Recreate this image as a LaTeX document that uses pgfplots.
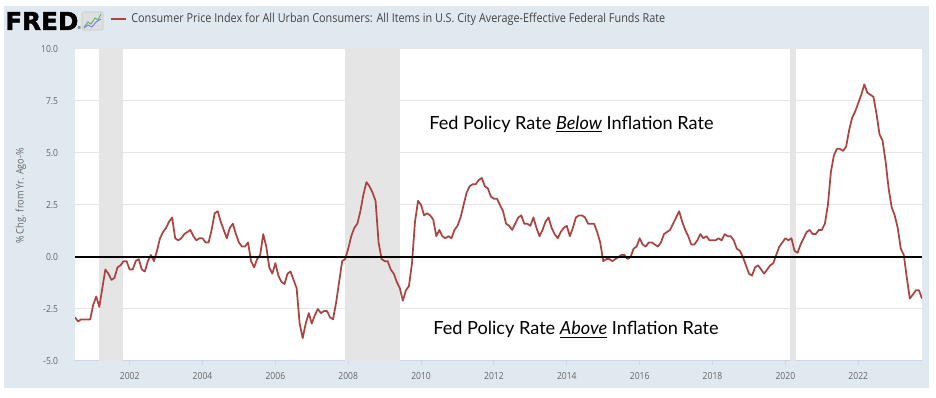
\documentclass[border=0pt]{standalone}
\usepackage{fontspec}
\usepackage{pgfplots}
\pgfplotsset{compat=1.18}
\usepackage{pgfplotstable}
\setmainfont{Open Sans}[FakeStretch=0.88]
\newfontfamily\annotfont{Lato}
\newfontfamily\logofont{DejaVu Sans}[BoldFeatures={FakeBold=1.5}]
\definecolor{panel}{HTML}{E1E9F0}
\definecolor{recess}{HTML}{E5E5E5}
\definecolor{gridc}{HTML}{E6E6E6}
\definecolor{axc}{HTML}{CCD6EB}
\definecolor{tickc}{HTML}{666666}
\definecolor{titlec}{HTML}{444444}
\definecolor{lred}{RGB}{170,68,66}
\pgfplotstableread{
y m v
2000 7 -2.9
2000 8 -3.1
2000 9 -3.0
2000 10 -3.0
2000 11 -3.0
2000 12 -3.0
2001 1 -2.3
2001 2 -1.9
2001 3 -2.4
2001 4 -1.5
2001 5 -0.6
2001 6 -0.8
2001 7 -1.1
2001 8 -1.0
2001 9 -0.5
2001 10 -0.4
2001 11 -0.2
2001 12 -0.2
2002 1 -0.6
2002 2 -0.6
2002 3 -0.2
2002 4 -0.1
2002 5 -0.6
2002 6 -0.7
2002 7 -0.2
2002 8 0.1
2002 9 -0.2
2002 10 0.3
2002 11 0.9
2002 12 1.2
2003 1 1.4
2003 2 1.7
2003 3 1.9
2003 4 0.9
2003 5 0.8
2003 6 0.9
2003 7 1.1
2003 8 1.2
2003 9 1.3
2003 10 1.0
2003 11 0.8
2003 12 0.9
2004 1 0.9
2004 2 0.7
2004 3 0.7
2004 4 1.3
2004 5 2.1
2004 6 2.2
2004 7 1.7
2004 8 1.3
2004 9 0.9
2004 10 1.4
2004 11 1.6
2004 12 1.1
2005 1 0.7
2005 2 0.5
2005 3 0.5
2005 4 0.7
2005 5 -0.2
2005 6 -0.5
2005 7 -0.1
2005 8 0.1
2005 9 1.1
2005 10 0.5
2005 11 -0.5
2005 12 -0.8
2006 1 -0.3
2006 2 -0.9
2006 3 -1.2
2006 4 -1.3
2006 5 -0.8
2006 6 -0.7
2006 7 -1.1
2006 8 -1.5
2006 9 -3.2
2006 10 -3.9
2006 11 -3.2
2006 12 -2.7
2007 1 -3.2
2007 2 -2.8
2007 3 -2.5
2007 4 -2.7
2007 5 -2.6
2007 6 -2.6
2007 7 -2.9
2007 8 -3.0
2007 9 -2.2
2007 10 -1.2
2007 11 -0.2
2007 12 -0.1
2008 1 0.4
2008 2 1.0
2008 3 1.4
2008 4 1.6
2008 5 2.2
2008 6 3.0
2008 7 3.6
2008 8 3.4
2008 9 3.1
2008 10 2.7
2008 11 0.7
2008 12 -0.1
2009 1 -0.2
2009 2 -0.2
2009 3 -0.6
2009 4 -0.8
2009 5 -1.2
2009 6 -1.5
2009 7 -2.1
2009 8 -1.6
2009 9 -1.4
2009 10 -0.3
2009 11 1.7
2009 12 2.7
2010 1 2.5
2010 2 2.0
2010 3 2.1
2010 4 2.0
2010 5 1.8
2010 6 1.0
2010 7 1.3
2010 8 1.0
2010 9 0.9
2010 10 1.0
2010 11 0.9
2010 12 1.3
2011 1 1.5
2011 2 1.9
2011 3 2.5
2011 4 3.1
2011 5 3.4
2011 6 3.5
2011 7 3.5
2011 8 3.7
2011 9 3.8
2011 10 3.4
2011 11 3.3
2011 12 2.9
2012 1 2.8
2012 2 2.8
2012 3 2.5
2012 4 2.2
2012 5 1.6
2012 6 1.5
2012 7 1.3
2012 8 1.6
2012 9 1.9
2012 10 2.0
2012 11 1.6
2012 12 1.6
2013 1 1.5
2013 2 1.9
2013 3 1.4
2013 4 1.0
2013 5 1.3
2013 6 1.7
2013 7 1.9
2013 8 1.4
2013 9 1.1
2013 10 0.9
2013 11 1.2
2013 12 1.4
2014 1 1.5
2014 2 1.0
2014 3 1.4
2014 4 1.9
2014 5 2.0
2014 6 2.0
2014 7 1.9
2014 8 1.6
2014 9 1.6
2014 10 1.6
2014 11 1.2
2014 12 0.7
2015 1 -0.2
2015 2 -0.1
2015 3 -0.1
2015 4 -0.2
2015 5 -0.1
2015 6 0.0
2015 7 0.1
2015 8 0.1
2015 9 -0.1
2015 10 0.0
2015 11 0.4
2015 12 0.5
2016 1 0.9
2016 2 0.6
2016 3 0.5
2016 4 0.7
2016 5 0.7
2016 6 0.6
2016 7 0.5
2016 8 0.7
2016 9 1.1
2016 10 1.2
2016 11 1.3
2016 12 1.6
2017 1 1.9
2017 2 2.2
2017 3 1.7
2017 4 1.3
2017 5 1.0
2017 6 0.6
2017 7 0.6
2017 8 0.8
2017 9 1.1
2017 10 0.9
2017 11 1.0
2017 12 0.8
2018 1 0.8
2018 2 0.8
2018 3 0.9
2018 4 0.8
2018 5 1.1
2018 6 1.0
2018 7 1.0
2018 8 0.8
2018 9 0.4
2018 10 0.3
2018 11 0.0
2018 12 -0.4
2019 1 -0.8
2019 2 -0.9
2019 3 -0.5
2019 4 -0.4
2019 5 -0.6
2019 6 -0.8
2019 7 -0.6
2019 8 -0.4
2019 9 -0.3
2019 10 0.1
2019 11 0.5
2019 12 0.7
2020 1 0.9
2020 2 0.8
2020 3 0.9
2020 4 0.3
2020 5 0.2
2020 6 0.6
2020 7 0.9
2020 8 1.2
2020 9 1.3
2020 10 1.1
2020 11 1.1
2020 12 1.3
2021 1 1.3
2021 2 1.6
2021 3 2.5
2021 4 4.1
2021 5 4.9
2021 6 5.2
2021 7 5.2
2021 8 5.1
2021 9 5.3
2021 10 6.1
2021 11 6.7
2021 12 7.0
2022 1 7.4
2022 2 7.8
2022 3 8.3
2022 4 7.9
2022 5 7.8
2022 6 7.7
2022 7 6.9
2022 8 5.9
2022 9 5.6
2022 10 4.6
2022 11 3.3
2022 12 2.4
2023 1 2.0
2023 2 1.4
2023 3 0.4
2023 4 0.1
2023 5 -1.0
2023 6 -2.0
2023 7 -1.8
2023 8 -1.6
2023 9 -1.6
2023 10 -2.0
}\cpidata
\begin{document}
\begin{tikzpicture}[x=0.75pt,y=0.75pt]
\useasboundingbox (0,0) rectangle (936,398);
\fill[white] (0,0) rectangle (936,398);
\fill[panel] (4,10) rectangle (929,392);
\begin{axis}[
  at={(56.25pt,27.75pt)}, anchor=south west, scale only axis,
  width=635.25pt, height=234pt,
  xmin=2000.5, xmax=2023.75, ymin=-5, ymax=10,
  axis background/.style={fill=white},
  axis x line*=bottom, axis y line*=left,
  y axis line style={draw=none},
  x axis line style={draw=axc, line width=0.75pt},
  xtick={2002,2004,...,2022},
  ytick={-5,-2.5,0,2.5,5,7.5,10},
  ymajorgrids, major grid style={gridc, line width=0.75pt},
  ytick style={draw=none},
  xtick style={draw=axc, line width=0.75pt},
  tick align=outside, major tick length=3pt,
  /pgf/number format/assume math mode=true,
  x tick label style={/pgf/number format/1000 sep={}, font=\fontsize{7.3pt}{8pt}\selectfont, text=tickc, anchor=north, inner sep=0pt, yshift=-5.5pt},
  y tick label style={/pgf/number format/.cd, fixed, fixed zerofill, precision=1, /tikz/.cd, font=\fontsize{7.3pt}{8pt}\selectfont, text=tickc, anchor=east, inner sep=0pt, xshift=-9.5pt},
  clip=true,
]
\addplot[draw=none, fill=recess] coordinates {(2001.17,-5) (2001.17,10) (2001.83,10) (2001.83,-5)} --cycle;
\addplot[draw=none, fill=recess] coordinates {(2007.92,-5) (2007.92,10) (2009.42,10) (2009.42,-5)} --cycle;
\addplot[draw=none, fill=recess] coordinates {(2020.12,-5) (2020.12,10) (2020.30,10) (2020.30,-5)} --cycle;
\addplot[lred, line width=1.3pt, line join=round] table[x expr=\thisrow{y}+(\thisrow{m}-1)/12, y=v]{\cpidata};
\addplot[black, line width=1.5pt] coordinates {(2000.5,0) (2023.75,0)};
\end{axis}
% annotations
\node[anchor=base, inner sep=0pt, font=\annotfont\fontsize{13.6pt}{16pt}\selectfont] at (571.5,268.7) {Fed Policy Rate \underline{\textit{Below}} Inflation Rate};
\node[anchor=base, inner sep=0pt, font=\annotfont\fontsize{13.6pt}{16pt}\selectfont] at (576,63) {Fed Policy Rate \underline{\textit{Above}} Inflation Rate};
% y label
\node[rotate=90, inner sep=0pt, text=tickc, font=\fontsize{7.8pt}{9pt}\selectfont] at (21,202) {\% Chg. from Yr. Ago-\%};
% header
\node[anchor=base west, inner sep=0pt, font=\logofont\bfseries\fontsize{18.5pt}{20pt}\selectfont] at (5,368) {FRED};
\node[anchor=base west, inner sep=0pt, font=\logofont\fontsize{3pt}{3pt}\selectfont] at (77,368) {®};
\fill[rounded corners=1pt, fill=gray!25, draw=gray!45, line width=0.4pt] (82,368) rectangle (103,386);
\draw[green!55!black!60, line width=0.8pt] (84,371) -- (88,376) -- (91,374) -- (95,380) -- (98,378) -- (101,384);
\draw[blue!50, line width=0.8pt] (84,370) -- (88,373) -- (92,371) -- (96,376) -- (101,379);
\draw[lred, line width=1.5pt] (111,379) -- (126,379);
\node[anchor=west, inner sep=0pt, text=titlec, font=\fontsize{9.25pt}{11pt}\selectfont] at (131,379) {Consumer Price Index for All Urban Consumers: All Items in U.S. City Average-Effective Federal Funds Rate};
\end{tikzpicture}
\end{document}
